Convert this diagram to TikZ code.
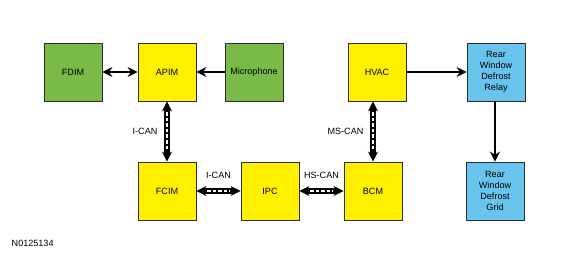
\documentclass[tikz,border=0pt]{standalone}
\usepackage{fontspec}
\setmainfont{Liberation Sans}
\usepackage{tikz}
\usetikzlibrary{arrows.meta, positioning}
\definecolor{modgreen}{RGB}{122, 187, 72}
\definecolor{modyellow}{RGB}{255, 240, 0}
\definecolor{modblue}{RGB}{104, 196, 236}
\definecolor{edgegray}{RGB}{45, 45, 45}

\begin{document}
\begin{tikzpicture}[x=0.75pt, y=-0.75pt,
    box/.style={rectangle, draw=edgegray, line width=0.6pt,
                minimum width=43.5pt, minimum height=43.5pt, inner sep=1pt,
                align=center, font=\fontsize{6.8}{8.2}\selectfont},
    greenbox/.style={box, fill=modgreen},
    yellowbox/.style={box, fill=modyellow},
    bluebox/.style={box, fill=modblue},
    arr/.style={-{Stealth[length=7.5pt, width=7.5pt]}, line width=2pt},
    darr/.style={{Stealth[length=7.5pt, width=7.5pt]}-{Stealth[length=7.5pt, width=7.5pt]}, line width=2pt},
    can/.style={{Stealth[length=7.5pt, width=7.5pt]}-{Stealth[length=7.5pt, width=7.5pt]}, line width=3.8pt,
                postaction={draw=white, -, line width=1.5pt, dash pattern=on 2.6pt off 1.6pt,
                            shorten <=8pt, shorten >=8pt}},
    lbl/.style={font=\fontsize{6.8}{8}\selectfont}
]
\useasboundingbox (0,0) rectangle (580,262);

\node[greenbox] (fdim) at (73,72) {FDIM};
\node[yellowbox] (apim) at (167,72) {APIM};
\node[greenbox] (mic) at (254,72) {Microphone};
\node[yellowbox] (hvac) at (377,72) {HVAC};
\node[bluebox] (relay) at (496,72) {Rear\\Window\\Defrost\\Relay};
\node[yellowbox] (fcim) at (167,191) {FCIM};
\node[yellowbox] (ipc) at (270,191) {IPC};
\node[yellowbox] (bcm) at (373,191) {BCM};
\node[bluebox] (grid) at (495,191) {Rear\\Window\\Defrost\\Grid};
\node[lbl, anchor=west] (code) at (7,243) {N0125134};

\draw[darr] (fdim) -- (apim);
\draw[arr] (mic) -- (apim);
\draw[arr] (hvac) -- (relay);
\draw[arr] (relay.south -| grid) -- (grid);
\draw[can] (apim) -- node[left=2pt, lbl]{I-CAN} (fcim);
\draw[can] (fcim) -- node[above=4pt, lbl]{I-CAN} (ipc);
\draw[can] (ipc) -- node[above=4pt, lbl]{HS-CAN} (bcm);
\draw[can] (bcm.north |- hvac.south) -- node[left=2pt, lbl]{MS-CAN} (bcm.north);

\end{tikzpicture}
\end{document}
